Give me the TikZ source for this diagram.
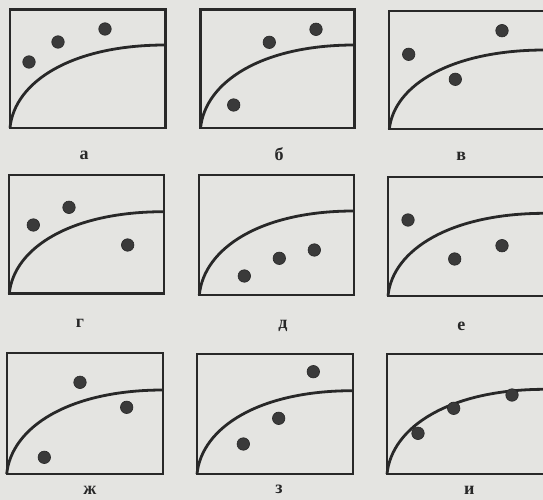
\documentclass[tikz,border=0pt]{standalone}
\usepackage{fontspec}
\setmainfont{Liberation Serif}
\definecolor{paper}{RGB}{228,228,225}
\definecolor{ink}{RGB}{40,40,40}
\definecolor{dotc}{RGB}{58,58,58}
\tikzset{
  frame/.style={draw=ink, line width=2.2pt},
  curv/.style={draw=ink, line width=2.8pt},
  pt/.style={circle, fill=dotc, draw=ink, line width=0.6pt, minimum size=12.5pt, inner sep=0pt},
  lab/.style={font=\bfseries\fontsize{18}{18}\selectfont, text=ink, inner sep=0pt}
}
% #1 left, #2 top, #3 right, #4 bottom, #5 curve end height
\newcommand\mypanel[5]{%
  \draw[frame] (#1,#2) rectangle (#3,#4);
  \draw[curv] (#1,#4) .. controls ({#1+0.03*(#3-#1)},{#4-0.56*(#4-#5)}) and ({#1+0.4*(#3-#1)},#5) .. (#3,#5);
}
\begin{document}
\begin{tikzpicture}[x=1pt,y=-1pt]
\fill[paper] (0,0) rectangle (543,500);
\useasboundingbox (0,0) rectangle (543,500);
\clip (0,0) rectangle (543,500);
% row 1
\mypanel{10}{9.5}{165.5}{127.7}{45}
\node[pt] (a1) at (29,62) {};
\node[pt] (a2) at (58,42) {};
\node[pt] (a3) at (105,29) {};
\node[lab] (la) at (84,155) {а};
\mypanel{200.5}{9.5}{354.5}{128.3}{45}
\node[pt] (b1) at (233.7,105) {};
\node[pt] (b2) at (269.3,42.3) {};
\node[pt] (b3) at (316,29.3) {};
\node[lab] (lb) at (279,154) {б};
\mypanel{389.3}{10.7}{545}{129.3}{50}
\node[pt] (c1) at (408.7,54.3) {};
\node[pt] (c2) at (455.3,79.3) {};
\node[pt] (c3) at (502,30.7) {};
\node[lab] (lc) at (461.3,156) {в};
% row 2
\mypanel{9.3}{175}{164}{293.5}{211.7}
\node[pt] (d1) at (33.3,225) {};
\node[pt] (d2) at (69,207.3) {};
\node[pt] (d3) at (127.7,245) {};
\node[lab] (ld) at (80,323) {г};
\mypanel{199.3}{175}{353.7}{295}{211}
\node[pt] (e1) at (244.3,276) {};
\node[pt] (e2) at (279.3,258.3) {};
\node[pt] (e3) at (314.3,250) {};
\node[lab] (le) at (283,326) {д};
\mypanel{388}{176.7}{545}{295.7}{213.3}
\node[pt] (f1) at (408,220) {};
\node[pt] (f2) at (454.7,259) {};
\node[pt] (f3) at (502,245.7) {};
\node[lab] (lf) at (461.3,326.5) {е};
% row 3
\mypanel{6.7}{353.3}{163.3}{474}{390}
\node[pt] (g1) at (80,382.3) {};
\node[pt] (g2) at (126.7,407.3) {};
\node[pt] (g3) at (44.3,457.3) {};
\node[lab] (lg) at (90,490) {ж};
\mypanel{197}{354}{352.7}{474}{390.7}
\node[pt] (h1) at (313.3,371.7) {};
\node[pt] (h2) at (278.7,418.3) {};
\node[pt] (h3) at (243.3,444) {};
\node[lab] (lh) at (279,489.5) {з};
\mypanel{387}{354}{545}{474}{389.3}
\node[pt] (i1) at (418,433.3) {};
\node[pt] (i2) at (453.7,408.3) {};
\node[pt] (i3) at (512,395) {};
\node[lab] (li) at (469.3,490) {и};
\end{tikzpicture}
\end{document}
